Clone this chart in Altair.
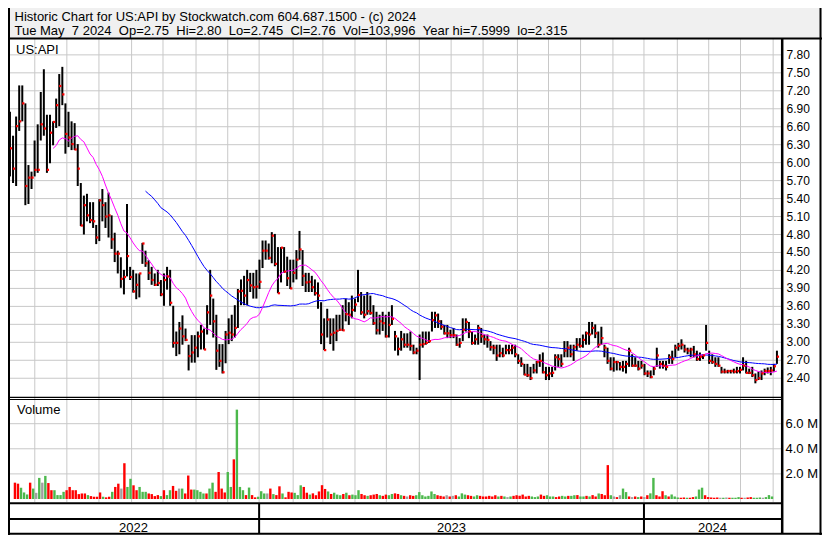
import altair as alt
import pandas as pd

# ---------------- data (two trading days per bar) ----------------
highs = [6.85, 6.45, 6.77, 7.29, 7.29, 6.99, 5.96, 5.85, 6.37, 6.64,
         7.18, 7.56, 6.80, 6.80, 6.69, 7.07, 7.48, 7.60, 6.99, 6.85,
         6.69, 6.66, 6.31, 5.66, 5.45, 5.48, 5.34, 5.34, 4.96, 5.39,
         5.56, 5.34, 5.50, 5.12, 4.83, 4.53, 4.42, 4.21, 5.31, 4.26,
         4.21, 4.15, 4.15, 4.66, 4.53, 4.37, 4.26, 4.15, 4.21, 4.04,
         4.15, 4.26, 4.21, 3.61, 3.18, 3.34, 3.45, 3.23, 2.96, 3.12,
         3.12, 3.18, 3.29, 3.23, 3.62, 4.21, 3.73, 3.46, 2.97, 2.97,
         3.19, 3.40, 3.46, 3.62, 3.89, 4.05, 4.11, 4.21, 4.16, 4.16,
         4.21, 4.38, 4.70, 4.70, 4.65, 4.84, 4.81, 4.59, 4.59, 4.59,
         4.43, 4.38, 4.38, 4.54, 4.86, 4.54, 4.16, 4.16, 4.11, 4.05,
         4.00, 3.67, 3.40, 3.56, 3.40, 3.40, 3.46, 3.46, 3.62, 3.73,
         3.67, 3.78, 3.73, 4.21, 3.84, 3.78, 3.84, 3.78, 3.62, 3.51,
         3.46, 3.51, 3.46, 3.51, 3.62, 3.19, 3.08, 3.19, 3.15, 3.15,
         3.18, 2.96, 2.91, 3.13, 3.18, 3.18, 3.18, 3.51, 3.51, 3.48,
         3.37, 3.29, 3.29, 3.21, 3.24, 3.13, 3.07, 3.40, 3.40, 3.34,
         3.18, 3.13, 3.29, 3.24, 3.13, 3.13, 3.02, 2.96, 2.96, 2.96,
         2.91, 2.96, 2.96, 2.96, 2.96, 2.80, 2.75, 2.64, 2.64, 2.59,
         2.64, 2.69, 2.80, 2.83, 2.59, 2.59, 2.59, 2.80, 2.80, 2.80,
         3.02, 3.02, 2.96, 2.96, 3.07, 3.07, 3.13, 3.18, 3.34, 3.34,
         3.30, 3.18, 3.26, 2.96, 2.91, 2.75, 2.75, 2.69, 2.67, 2.69,
         2.69, 2.91, 2.80, 2.75, 2.69, 2.69, 2.64, 2.53, 2.53, 2.59,
         2.91, 2.69, 2.69, 2.69, 2.80, 2.86, 2.96, 2.99, 3.05, 2.96,
         2.91, 2.91, 2.94, 2.86, 2.83, 2.80, 3.29, 2.86, 2.80, 2.75,
         2.75, 2.59, 2.56, 2.54, 2.54, 2.56, 2.59, 2.59, 2.75, 2.69,
         2.56, 2.59, 2.48, 2.51, 2.53, 2.56, 2.58, 2.59, 2.64, 2.86]

lows = [5.77, 5.66, 5.61, 6.53, 6.69, 5.29, 5.31, 5.56, 5.77, 5.83,
        6.37, 6.45, 5.83, 5.99, 6.29, 6.58, 6.61, 6.96, 6.15, 6.26,
        6.21, 6.21, 5.61, 4.94, 4.80, 5.02, 4.99, 4.91, 4.64, 4.69,
        5.02, 4.91, 4.75, 4.56, 4.34, 4.15, 3.91, 3.80, 4.10, 4.04,
        3.83, 3.72, 3.75, 4.31, 4.26, 4.04, 3.96, 3.94, 3.94, 3.77,
        3.61, 3.88, 3.61, 2.91, 2.77, 2.80, 2.96, 3.02, 2.53, 2.66,
        2.66, 2.75, 2.88, 2.88, 3.13, 3.29, 3.08, 2.54, 2.59, 2.48,
        2.65, 2.97, 3.02, 3.08, 3.24, 3.62, 3.62, 3.62, 3.84, 3.73,
        3.73, 3.89, 4.24, 4.38, 4.38, 4.32, 4.27, 3.82, 4.00, 4.16,
        3.94, 3.89, 4.00, 4.05, 4.38, 3.94, 3.84, 3.84, 3.84, 3.78,
        3.56, 2.97, 2.87, 3.08, 2.97, 2.86, 3.02, 3.19, 3.19, 3.35,
        3.29, 3.40, 3.51, 3.67, 3.46, 3.40, 3.46, 3.46, 3.29, 3.13,
        3.13, 3.19, 3.08, 3.08, 3.29, 2.86, 2.78, 2.86, 2.91, 2.91,
        2.86, 2.80, 2.80, 2.37, 2.91, 2.96, 2.99, 3.18, 3.24, 3.24,
        3.21, 3.13, 3.07, 3.07, 3.07, 2.94, 2.91, 3.02, 3.18, 3.07,
        2.96, 2.96, 2.96, 2.99, 2.96, 2.91, 2.86, 2.80, 2.69, 2.75,
        2.75, 2.80, 2.80, 2.80, 2.75, 2.64, 2.59, 2.45, 2.42, 2.37,
        2.48, 2.48, 2.59, 2.48, 2.37, 2.37, 2.42, 2.53, 2.59, 2.59,
        2.75, 2.75, 2.75, 2.69, 2.86, 2.91, 2.91, 2.96, 2.96, 3.13,
        3.07, 2.91, 2.96, 2.75, 2.64, 2.53, 2.51, 2.53, 2.53, 2.51,
        2.48, 2.59, 2.59, 2.59, 2.53, 2.56, 2.45, 2.42, 2.40, 2.45,
        2.59, 2.56, 2.56, 2.53, 2.64, 2.64, 2.75, 2.86, 2.88, 2.83,
        2.80, 2.75, 2.75, 2.69, 2.69, 2.72, 2.86, 2.64, 2.64, 2.59,
        2.59, 2.48, 2.48, 2.48, 2.48, 2.48, 2.48, 2.48, 2.53, 2.48,
        2.47, 2.42, 2.315, 2.37, 2.37, 2.45, 2.48, 2.45, 2.51, 2.64]

closes = [6.24, 5.90, 6.61, 6.69, 6.99, 5.61, 5.75, 5.75, 5.88, 5.88,
          6.64, 6.57, 5.88, 6.50, 6.68, 6.96, 7.28, 7.14, 6.48, 6.42,
          6.31, 6.22, 5.90, 4.95, 5.29, 5.12, 5.04, 5.02, 4.75, 5.37,
          5.29, 5.10, 5.12, 4.72, 4.48, 4.48, 4.06, 4.09, 4.44, 4.09,
          3.85, 3.96, 4.15, 4.65, 4.32, 4.16, 4.04, 3.96, 3.99, 3.80,
          4.04, 4.10, 3.66, 2.99, 2.99, 3.23, 3.10, 3.04, 2.77, 2.83,
          2.91, 3.10, 3.18, 2.88, 3.50, 3.78, 3.35, 2.86, 2.69, 2.50,
          3.13, 3.16, 3.13, 3.24, 3.85, 3.86, 3.78, 4.04, 3.95, 3.92,
          3.93, 4.01, 4.53, 4.53, 4.41, 4.78, 4.31, 3.82, 4.58, 4.18,
          4.07, 3.90, 4.16, 4.38, 4.55, 4.11, 4.00, 4.01, 3.92, 3.82,
          3.78, 3.13, 2.87, 3.38, 3.13, 3.16, 3.19, 3.21, 3.20, 3.47,
          3.46, 3.54, 3.63, 3.79, 3.50, 3.46, 3.52, 3.49, 3.32, 3.20,
          3.35, 3.32, 3.10, 3.29, 3.39, 3.10, 2.89, 3.05, 2.96, 2.96,
          2.94, 2.83, 2.86, 2.96, 2.97, 2.99, 3.02, 3.37, 3.45, 3.35,
          3.26, 3.15, 3.15, 3.12, 3.12, 2.96, 2.99, 3.21, 3.34, 3.18,
          2.99, 3.05, 3.24, 3.10, 3.05, 3.04, 2.92, 2.91, 2.78, 2.82,
          2.78, 2.87, 2.87, 2.91, 2.80, 2.69, 2.64, 2.46, 2.45, 2.40,
          2.53, 2.67, 2.69, 2.50, 2.45, 2.48, 2.49, 2.75, 2.72, 2.64,
          2.86, 2.91, 2.80, 2.92, 2.96, 2.94, 3.04, 3.15, 3.13, 3.24,
          3.15, 2.96, 3.07, 2.91, 2.69, 2.56, 2.67, 2.67, 2.59, 2.59,
          2.64, 2.86, 2.61, 2.61, 2.56, 2.61, 2.48, 2.48, 2.42, 2.56,
          2.78, 2.64, 2.61, 2.59, 2.75, 2.72, 2.91, 2.94, 2.96, 2.88,
          2.86, 2.88, 2.80, 2.72, 2.76, 2.78, 2.99, 2.69, 2.67, 2.64,
          2.61, 2.51, 2.51, 2.52, 2.52, 2.51, 2.52, 2.54, 2.61, 2.49,
          2.49, 2.45, 2.37, 2.40, 2.48, 2.52, 2.52, 2.53, 2.60, 2.76]

volume_m = [1.30, 1.22, 0.90, 0.52, 0.36, 1.30, 0.83, 0.49, 1.68, 1.30,
            1.84, 1.27, 0.70, 0.70, 0.31, 0.31, 0.57, 0.70, 0.96, 0.70,
            0.70, 0.39, 0.44, 0.44, 0.31, 0.23, 0.18, 0.18, 0.52, 0.18,
            0.13, 0.18, 0.57, 0.96, 1.22, 0.83, 2.85, 0.96, 1.61, 1.09,
            0.70, 0.96, 0.57, 0.57, 0.44, 0.39, 0.23, 0.31, 0.23, 0.70,
            0.31, 0.70, 1.04, 0.65, 0.83, 0.83, 0.44, 1.87, 0.75, 0.75,
            0.70, 0.57, 0.44, 0.44, 0.83, 1.30, 0.57, 2.15, 0.83, 0.52,
            2.15, 0.96, 3.16, 7.12, 0.96, 0.70, 0.31, 0.91, 0.31, 0.13,
            0.18, 0.62, 0.44, 0.44, 0.83, 0.39, 0.31, 1.01, 0.44, 0.13,
            0.57, 0.52, 0.49, 0.31, 1.09, 0.96, 0.50, 0.35, 0.45, 0.30,
            0.60, 1.10, 0.80, 0.60, 0.40, 0.50, 0.35, 0.30, 0.40, 0.50,
            0.30, 0.35, 0.30, 0.70, 0.40, 0.30, 0.25, 0.30, 0.35, 0.40,
            0.30, 0.25, 0.35, 0.30, 0.40, 0.45, 0.40, 0.30, 0.25, 0.20,
            0.30, 0.25, 0.30, 0.55, 0.30, 0.20, 0.25, 0.60, 0.40, 0.30,
            0.25, 0.20, 0.30, 0.20, 0.25, 0.30, 0.20, 0.45, 0.35, 0.30,
            0.25, 0.20, 0.30, 0.25, 0.20, 0.20, 0.25, 0.20, 0.30, 0.20,
            0.25, 0.20, 0.15, 0.20, 0.25, 0.30, 0.25, 0.35, 0.20, 0.25,
            0.20, 0.15, 0.20, 0.35, 0.25, 0.30, 0.20, 0.20, 0.15, 0.20,
            0.25, 0.20, 0.25, 0.25, 0.30, 0.31, 0.20, 0.20, 0.25, 0.20,
            0.31, 0.20, 0.44, 0.40, 0.30, 2.70, 0.30, 0.20, 0.15, 0.30,
            0.83, 0.55, 0.20, 0.15, 0.20, 0.15, 0.20, 0.15, 0.30, 0.45,
            1.68, 0.30, 0.20, 0.62, 0.30, 0.20, 0.36, 0.20, 0.12, 0.10,
            0.12, 0.10, 0.10, 0.15, 0.20, 0.75, 0.90, 0.30, 0.15, 0.12,
            0.10, 0.12, 0.10, 0.10, 0.12, 0.10, 0.10, 0.10, 0.15, 0.10,
            0.10, 0.12, 0.15, 0.10, 0.10, 0.12, 0.10, 0.15, 0.31, 0.20]

price_ticks = [2.40, 2.70, 3.00, 3.30, 3.60, 3.90, 4.20, 4.50, 4.80, 5.10,
               5.40, 5.70, 6.00, 6.30, 6.60, 6.90, 7.20, 7.50, 7.80]
volume_ticks_m = [2.0, 4.0, 6.0]
# bar-index position of each month start (Jun 2022 ... May 2024)
month_lines = [8.06, 18.47, 28.89, 39.49, 49.68, 60.41, 70.70, 80.89,
               91.94, 101.59, 112.01, 122.20, 132.90, 143.22, 153.60, 164.75,
               174.84, 185.25, 195.76, 205.83, 216.66, 226.85, 237.17, 247.77]
years = ["2022", "2023", "2024"]
year_starts = [80.89, 205.83]

header1 = "Historic Chart for US:API by Stockwatch.com 604.687.1500 - (c) 2024"
header2 = ("Tue May\u00a0\u00a07 2024\u00a0\u00a0Op=2.75\u00a0\u00a0Hi=2.80\u00a0\u00a0Lo=2.745"
           "\u00a0\u00a0Cl=2.76\u00a0\u00a0Vol=103,996\u00a0\u00a0Year hi=7.5999\u00a0\u00a0lo=2.315")
symbol = "US:API"
vol_title = "Volume"

# ---------------- tables ----------------
n = len(closes)
df = pd.DataFrame({"i": list(range(n)), "high": highs, "low": lows,
                   "close": closes, "vol": volume_m})
prev = df["close"].shift(1)
df["dir"] = "down"
df.loc[df["close"] > prev, "dir"] = "up"
df.loc[df["close"] == prev, "dir"] = "flat"

ticks_df = pd.DataFrame({"p": price_ticks})
vticks_df = pd.DataFrame({"v": volume_ticks_m,
                          "lab": [f"{v:.1f} M" for v in volume_ticks_m]})
months_df = pd.DataFrame({"m": month_lines})
X_MIN, X_MAX = -0.637, 250.32
bounds = [X_MIN] + year_starts + [X_MAX]
years_df = pd.DataFrame({"year": years,
                         "c": [(bounds[k] + bounds[k + 1]) / 2 for k in range(3)]})
ystart_df = pd.DataFrame({"s": year_starts})
one = pd.DataFrame({"k": [0]})

# ---------------- layout (pixels) ----------------
W, H = 814, 527
PLOT_R = 773
FONT = "Liberation Sans"
GRID = "#c8c8c8"
RED = "#ff0000"
GREEN = "#4cb84c"

xs = alt.Scale(domain=[X_MIN, X_MAX], range=[0, PLOT_R], nice=False, zero=False)
ps = alt.Scale(domain=[2.10, 8.05], range=[388.2, 31.9], nice=False, zero=False)
vs = alt.Scale(domain=[-0.28, 8.0], range=[494.5, 390.6], nice=False, zero=False)

X = lambda f: alt.X(f, scale=xs, axis=None)


def hline(y, x1, x2, w=1.0, color="black"):
    return alt.Chart(one).mark_rule(color=color, strokeWidth=w).encode(
        x=alt.value(x1), x2=alt.value(x2), y=alt.value(y))


def vline(x, y1, y2, w=1.0, color="black"):
    return alt.Chart(one).mark_rule(color=color, strokeWidth=w).encode(
        x=alt.value(x), y=alt.value(y1), y2=alt.value(y2))


def label(txt, x, y, size=13, align="left"):
    return alt.Chart(one).mark_text(text=txt, font=FONT, fontSize=size, align=align,
                                    baseline="alphabetic", color="black").encode(
        x=alt.value(x), y=alt.value(y))


header_bg = alt.Chart(one).mark_rect(color="#f0f0f0").encode(
    x=alt.value(0), x2=alt.value(W), y=alt.value(0), y2=alt.value(30))

price_grid = alt.Chart(ticks_df).mark_rule(color=GRID, strokeWidth=1).encode(
    y=alt.Y("p:Q", scale=ps, axis=None), x=alt.value(0), x2=alt.value(PLOT_R))
vol_grid = alt.Chart(vticks_df).mark_rule(color=GRID, strokeWidth=1).encode(
    y=alt.Y("v:Q", scale=vs, axis=None), x=alt.value(0), x2=alt.value(PLOT_R))
month_grid = alt.Chart(months_df).mark_rule(color=GRID, strokeWidth=1).encode(
    x=X("m:Q"), y=alt.value(31), y2=alt.value(494))

vol_bars = alt.Chart(df).mark_bar(width=2.4).encode(
    x=X("i:Q"), y=alt.Y("vol:Q", scale=vs, axis=None), y2=alt.value(494),
    color=alt.Color("dir:N", legend=None,
                    scale=alt.Scale(domain=["up", "down", "flat"],
                                    range=[GREEN, RED, "#a0a0a0"])))

hl_bars = alt.Chart(df).mark_rule(color="black", strokeWidth=2).encode(
    x=X("i:Q"), y=alt.Y("low:Q", scale=ps, axis=None), y2="high:Q")

close_pts = alt.Chart(df).mark_square(size=5, color=RED, opacity=1, xOffset=1).encode(
    x=X("i:Q"), y=alt.Y("close:Q", scale=ps, axis=None))

ma_short = alt.Chart(df).transform_window(
    ma="mean(close)", frame=[-14, 0], sort=[alt.SortField("i")]
).transform_filter("datum.i >= 14").mark_line(color="#ff00ff", strokeWidth=1).encode(
    x=X("i:Q"), y=alt.Y("ma:Q", scale=ps, axis=None))

ma_long = alt.Chart(df).transform_window(
    ma="mean(close)", frame=[-44, 0], sort=[alt.SortField("i")]
).transform_filter("datum.i >= 44").mark_line(color="#0000ff", strokeWidth=1).encode(
    x=X("i:Q"), y=alt.Y("ma:Q", scale=ps, axis=None))

price_labels = alt.Chart(ticks_df).mark_text(
    font=FONT, fontSize=12, align="left", baseline="middle", color="black").encode(
    x=alt.value(778.5), y=alt.Y("p:Q", scale=ps, axis=None),
    text=alt.Text("p:Q", format=".2f"))

vol_labels = alt.Chart(vticks_df).mark_text(
    font=FONT, fontSize=13, align="left", baseline="middle", color="black").encode(
    x=alt.value(777.5), y=alt.Y("v:Q", scale=vs, axis=None), text="lab:N")

year_text = alt.Chart(years_df).mark_text(
    font=FONT, fontSize=13, align="center", baseline="alphabetic", color="black").encode(
    x=X("c:Q"), y=alt.value(523.5), text="year:N")

year_sep = alt.Chart(ystart_df).mark_rule(color="black", strokeWidth=2).encode(
    x=X("s:Q"), y=alt.value(495), y2=alt.value(526))

borders = [
    hline(30.5, 0, W, 2),          # under header
    vline(1, 0, H, 2),             # left edge
    vline(774.2, 30, 526, 2.5),    # plot / axis separator
    vline(812.5, 0, H, 2),         # right edge
    hline(389.3, 0, 775, 1.2),     # double line between panels
    hline(391.5, 0, 775, 1.2),
    hline(495.2, 0, 775, 2),       # under volume
    hline(511.0, 0, 775, 2),       # between date strips
    hline(525.8, 0, W, 2),         # bottom
]

texts = [
    label(header1, 6.5, 12.5),
    label(header2, 6.5, 26.5),
    label(symbol, 8, 45.5),
    label(vol_title, 9, 405.5),
]

chart = alt.layer(
    header_bg, price_grid, vol_grid, month_grid, vol_bars, hl_bars, ma_long, ma_short,
    close_pts, price_labels, vol_labels, year_text, year_sep, *borders, *texts
).resolve_scale(
    x="independent", y="independent", color="independent"
).properties(
    width=W, height=H, padding=0, autosize=alt.AutoSizeParams(type="none"),
    background="white"
).configure_view(strokeWidth=0)

chart.save("out.html", embed_options={"renderer": "svg", "actions": False})
